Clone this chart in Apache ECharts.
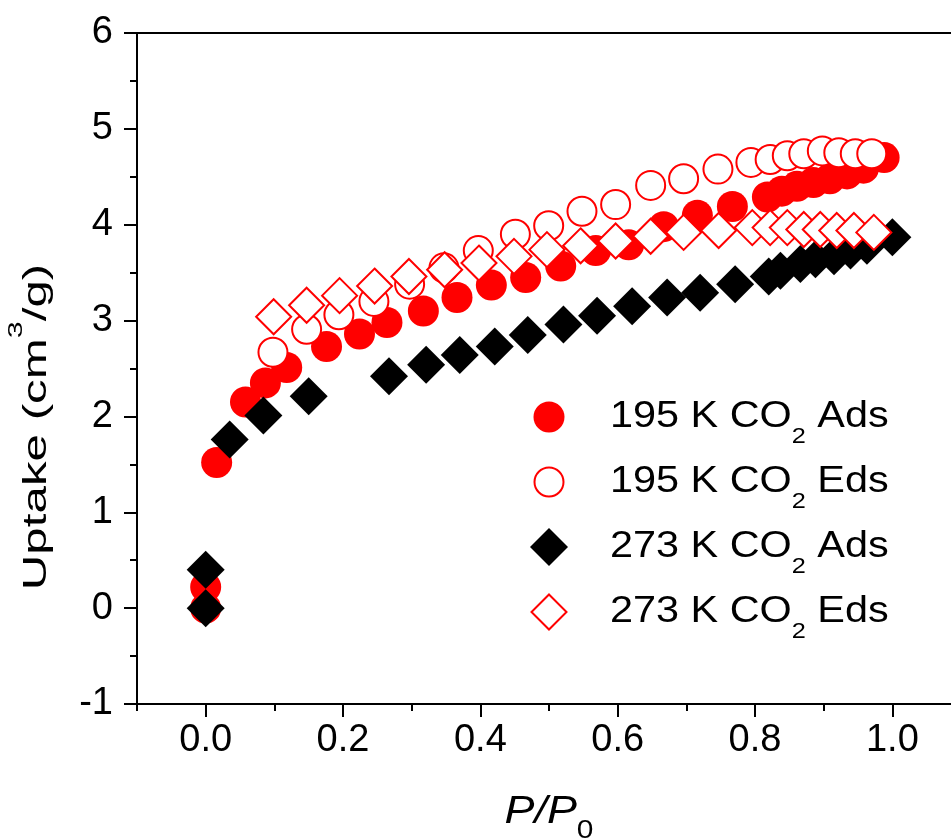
<!DOCTYPE html>
<html>
<head>
<meta charset="utf-8">
<script src="https://cdn.jsdelivr.net/npm/echarts@6/dist/echarts.min.js"></script>
<style>
html,body{margin:0;padding:0;background:#fff;overflow:hidden;}
#chart{width:951px;height:838px;}
</style>
</head>
<body>
<div id="chart"></div>
<script>
// ---- data ----
const seriesNames = ['195 K CO2 Ads', '195 K CO2 Eds', '273 K CO2 Ads', '273 K CO2 Eds'];
const legendLabels = [
  ['195 K CO', '2', ' Ads'],
  ['195 K CO', '2', ' Eds'],
  ['273 K CO', '2', ' Ads'],
  ['273 K CO', '2', ' Eds']
];
const ads195 = [[0,0],[0,0.22],[0.016,1.52],[0.058,2.15],[0.087,2.35],[0.118,2.51],[0.176,2.73],[0.224,2.86],[0.264,2.98],[0.317,3.10],[0.366,3.24],[0.416,3.37],[0.466,3.45],[0.517,3.57],[0.568,3.73],[0.616,3.79],[0.667,3.98],[0.716,4.10],[0.767,4.19],[0.818,4.29],[0.839,4.35],[0.861,4.40],[0.885,4.44],[0.909,4.48],[0.934,4.53],[0.958,4.59],[0.988,4.70]];
const eds195 = [[0.098,2.67],[0.147,2.91],[0.194,3.06],[0.245,3.20],[0.297,3.38],[0.347,3.55],[0.397,3.73],[0.451,3.90],[0.4995,3.99],[0.548,4.14],[0.597,4.21],[0.648,4.41],[0.696,4.48],[0.746,4.58],[0.794,4.65],[0.822,4.68],[0.847,4.72],[0.871,4.74],[0.898,4.77],[0.922,4.75],[0.946,4.74],[0.970,4.74]];
const ads273 = [[0,0],[0,0.40],[0.035,1.76],[0.084,2.01],[0.150,2.21],[0.267,2.42],[0.321,2.54],[0.370,2.64],[0.421,2.73],[0.469,2.85],[0.521,2.96],[0.570,3.05],[0.621,3.15],[0.672,3.24],[0.720,3.29],[0.771,3.38],[0.820,3.46],[0.837,3.52],[0.866,3.59],[0.888,3.64],[0.915,3.67],[0.939,3.73],[0.963,3.78],[1.000,3.87]];
const eds273 = [[0.099,3.04],[0.147,3.16],[0.195,3.26],[0.246,3.36],[0.296,3.46],[0.348,3.53],[0.398,3.60],[0.449,3.67],[0.497,3.74],[0.546,3.78],[0.597,3.83],[0.648,3.88],[0.696,3.92],[0.747,3.94],[0.796,3.97],[0.822,3.97],[0.847,3.97],[0.871,3.95],[0.895,3.95],[0.919,3.94],[0.944,3.94],[0.973,3.92]];

const xMin = -0.1, xMax = 1.1;
const yMin = -1, yMax = 6;
const xTitle = ['P/P', '0'];
const yTitle = ['Uptake (cm', '3', '/g)'];

// ---- layout ----
const FONT = '"Liberation Sans", Arial, sans-serif';
const gridLeft = 137, gridTop = 33, gridHeight = 671;
const unitX = 686.7;                      // px per 1.0 of P/P0
const gridWidth = (xMax - xMin) * unitX;

const RED = '#ff0000';
const chart = echarts.init(document.getElementById('chart'), null, {renderer: 'canvas'});

const styles = [
  {symbol: 'circle', size: 31, itemStyle: {color: RED}},
  {symbol: 'circle', size: 29, itemStyle: {color: '#ffffff', borderColor: RED, borderWidth: 2}},
  {symbol: 'diamond', size: 38, itemStyle: {color: '#000000'}},
  {symbol: 'diamond', size: 35, itemStyle: {color: '#ffffff', borderColor: RED, borderWidth: 2}}
];
const seriesData = [ads195, eds195, ads273, eds273];

const series = seriesData.map((d, i) => ({
  name: seriesNames[i],
  type: 'scatter',
  xAxisIndex: 0, yAxisIndex: 0,
  symbol: styles[i].symbol,
  symbolSize: styles[i].size,
  itemStyle: Object.assign({opacity: 1}, styles[i].itemStyle),
  emphasis: {disabled: true},
  clip: false,
  z: 2 + i,
  data: d
}));

// legend drawn as graphic (markers + rich text)
const legendX = 549, legendTop = 417, legendStep = 65, textX = 610;
const gfx = [];
legendLabels.forEach((lab, i) => {
  const cy = legendTop + i * legendStep;
  const st = styles[i];
  const bw = st.itemStyle.borderWidth || 0;
  if (st.symbol === 'circle') {
    gfx.push({
      type: 'circle', shape: {cx: legendX, cy: cy, r: st.size / 2},
      style: {fill: st.itemStyle.color, stroke: st.itemStyle.borderColor || null, lineWidth: bw}
    });
  } else {
    const h = st.size / 2;
    gfx.push({
      type: 'polygon', shape: {points: [[legendX, cy - h], [legendX + h, cy], [legendX, cy + h], [legendX - h, cy]]},
      style: {fill: st.itemStyle.color, stroke: st.itemStyle.borderColor || null, lineWidth: bw}
    });
  }
  gfx.push({
    type: 'text', x: textX, y: cy, scaleX: 1.15,
    style: {
      text: '{a|' + lab[0] + '}{s|' + lab[1] + '}{a|' + lab[2] + '}',
      align: 'left', verticalAlign: 'middle',
      rich: {
        a: {fontSize: 36, fontFamily: FONT, fill: '#000', color: '#000'},
        s: {fontSize: 22, fontFamily: FONT, fill: '#000', color: '#000', padding: [40, 0, 0, 0]}
      }
    }
  });
});

// axis titles
gfx.push({
  type: 'text', x: 549, y: 812, scaleX: 1.15,
  style: {
    text: '{a|' + xTitle[0] + '}{s|' + xTitle[1] + '}',
    align: 'center', verticalAlign: 'middle',
    rich: {
      a: {fontSize: 39, fontStyle: 'italic', fontFamily: FONT, fill: '#000', color: '#000'},
      s: {fontSize: 26, fontFamily: FONT, fill: '#000', color: '#000', padding: [38, 0, 0, 0]}
    }
  }
});
gfx.push({
  type: 'text', x: 37, y: 427, rotation: Math.PI / 2, scaleX: 1.45,
  style: {
    text: '{a|' + yTitle[0] + '}{s|' + yTitle[1] + '}{a|' + yTitle[2] + '}',
    align: 'center', verticalAlign: 'middle',
    rich: {
      a: {fontSize: 34, fontFamily: FONT, fill: '#000', color: '#000'},
      s: {fontSize: 21, fontFamily: FONT, fill: '#000', color: '#000', padding: [0, 0, 42, 0]}
    }
  }
});

const axisLineStyle = {color: '#000', width: 2};

const option = {
  animation: false,
  backgroundColor: '#ffffff',
  grid: [
    {left: gridLeft, top: gridTop, width: gridWidth, height: gridHeight, containLabel: false, outerBoundsMode: 'none'},
    {left: gridLeft + (0 - xMin) * unitX, top: gridTop, width: 1.2 * unitX, height: gridHeight, containLabel: false, outerBoundsMode: 'none'}
  ],
  xAxis: [
    { // main bottom axis: line + short ticks every 0.1
      type: 'value', gridIndex: 0, position: 'bottom', min: xMin, max: xMax, interval: 0.1,
      axisLine: {show: true, onZero: false, lineStyle: axisLineStyle},
      axisTick: {show: true, inside: false, length: 7, lineStyle: {color: '#000', width: 2}},
      axisLabel: {show: false},
      splitLine: {show: false}
    },
    { // top frame line
      type: 'value', gridIndex: 0, position: 'top', min: xMin, max: xMax,
      axisLine: {show: true, onZero: false, lineStyle: axisLineStyle},
      axisTick: {show: false}, axisLabel: {show: false}, splitLine: {show: false}
    },
    { // long ticks + labels every 0.2 (own grid starting at 0)
      type: 'value', gridIndex: 1, position: 'bottom', min: 0, max: 1.2, interval: 0.2,
      axisLine: {show: false, onZero: false},
      axisTick: {show: true, inside: false, length: 13, lineStyle: {color: '#000', width: 2}},
      axisLabel: {
        show: true, margin: 18, color: '#000', fontSize: 38, fontFamily: FONT,
        formatter: v => (v <= 1.0001 ? v.toFixed(1) : '')
      },
      splitLine: {show: false}
    }
  ],
  yAxis: [
    {
      type: 'value', gridIndex: 0, min: yMin, max: yMax, interval: 1,
      axisLine: {show: true, onZero: false, lineStyle: axisLineStyle},
      axisTick: {show: true, inside: false, length: 13, lineStyle: {color: '#000', width: 2}},
      minorTick: {show: true, splitNumber: 2, length: 7, lineStyle: {color: '#000', width: 2}},
      axisLabel: {show: true, margin: 24, color: '#000', fontSize: 38, fontFamily: FONT},
      splitLine: {show: false}
    },
    {
      type: 'value', gridIndex: 1, min: yMin, max: yMax, show: false
    }
  ],
  graphic: gfx,
  series: series
};
chart.setOption(option);
</script>
</body>
</html>
